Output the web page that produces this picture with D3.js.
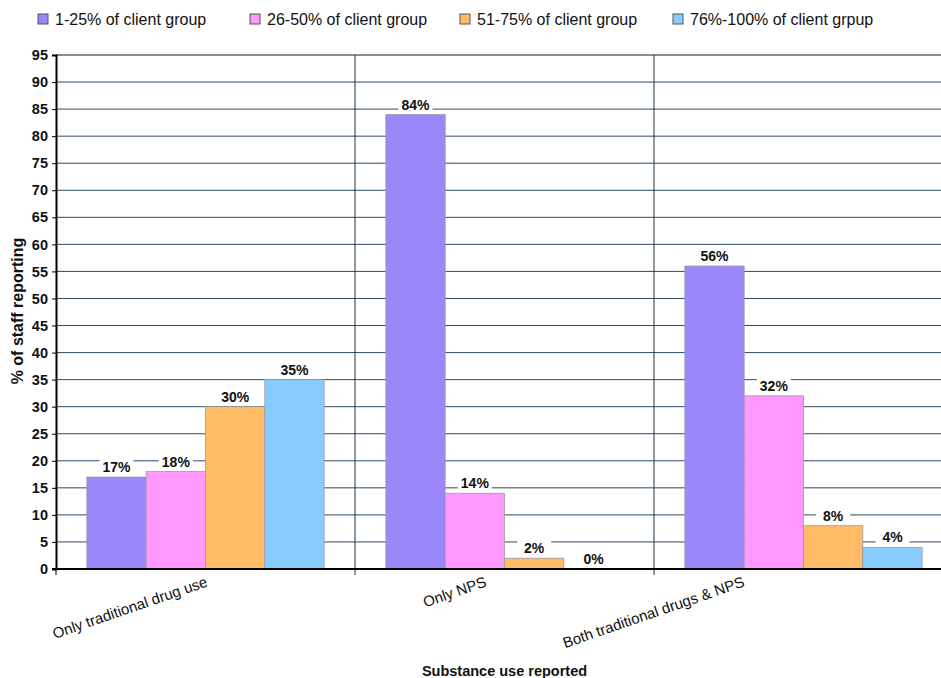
<!DOCTYPE html>
<html>
<head>
<meta charset="utf-8">
<script src="https://cdn.jsdelivr.net/npm/d3@7/dist/d3.min.js"></script>
<style>
  html, body { margin: 0; padding: 0; background: #fff; }
  svg { display: block; font-family: "Liberation Sans", Arial, sans-serif; }
</style>
</head>
<body>
<svg id="chart" width="941" height="678"></svg>
<script>
// Substance use categories and client-group bands
const categories = ["Only traditional drug use", "Only NPS", "Both traditional drugs & NPS"];
const series = ["1-25% of client group", "26-50% of client group", "51-75% of client group", "76%-100% of client grpup"];
const colors = ["#9b87fa", "#ff99ff", "#ffbb66", "#88ccff"];

// % of staff reporting, one array per client-group band (order follows categories)
const band1 = [17, 84, 56];
const band2 = [18, 14, 32];
const band3 = [30, 2, 8];
const band4 = [35, 0, 4];
const seriesValues = [band1, band2, band3, band4];

const yTicks = d3.range(0, 96, 5);

const svg = d3.select("#chart");
const plot = { left: 56, right: 953, top: 55, bottom: 569 };

const x0 = d3.scaleBand().domain(categories).range([plot.left, plot.right]).paddingInner(0).paddingOuter(0);
const x1 = d3.scaleBand().domain(series).range([0, x0.bandwidth()]).paddingInner(0).paddingOuter(0.52);
const y = d3.scaleLinear().domain([0, 95]).range([plot.bottom, plot.top]);

// horizontal gridlines
svg.append("g")
  .selectAll("line")
  .data(yTicks.filter(t => t > 0 && t < 95))
  .join("line")
  .attr("x1", plot.left).attr("x2", plot.right)
  .attr("y1", d => y(d)).attr("y2", d => y(d))
  .attr("stroke", "#2e4a63").attr("stroke-width", 1);

// top border line
svg.append("line")
  .attr("x1", plot.left).attr("x2", plot.right)
  .attr("y1", y(95)).attr("y2", y(95))
  .attr("stroke", "#8c8c8c").attr("stroke-width", 2);

// category separators
svg.append("g")
  .selectAll("line")
  .data(categories.slice(1))
  .join("line")
  .attr("x1", d => x0(d)).attr("x2", d => x0(d))
  .attr("y1", y(95)).attr("y2", y(0) + 6)
  .attr("stroke", "#1e3246").attr("stroke-width", 1);

// bars
const rows = [];
categories.forEach((c, ci) => {
  series.forEach((s, si) => rows.push({ c, s, si, v: seriesValues[si][ci] }));
});

svg.append("g")
  .selectAll("rect")
  .data(rows)
  .join("rect")
  .attr("x", d => x0(d.c) + x1(d.s))
  .attr("y", d => y(d.v))
  .attr("width", x1.bandwidth())
  .attr("height", d => y(0) - y(d.v))
  .attr("fill", d => colors[d.si])
  .attr("stroke", "#9a9aa8").attr("stroke-width", 0.8);

// value labels with white backing
const lab = svg.append("g").selectAll("g").data(rows).join("g")
  .attr("transform", d => `translate(${x0(d.c) + x1(d.s) + x1.bandwidth() / 2},${y(d.v) - 2})`);
lab.append("rect")
  .attr("x", -17).attr("y", -17).attr("width", 34).attr("height", 17)
  .attr("fill", "#fff");
lab.append("text")
  .attr("text-anchor", "middle")
  .attr("y", -3)
  .attr("font-size", 14).attr("font-weight", "bold").attr("fill", "#111")
  .text(d => d.v + "%");

// axes
const yAxis = d3.axisLeft(y).tickValues(yTicks).tickSize(4).tickPadding(4);
const gy = svg.append("g").attr("transform", `translate(${plot.left},0)`).call(yAxis);
gy.select(".domain").attr("stroke", "#000").attr("stroke-width", 2);
gy.selectAll(".tick line").attr("stroke", "#000");
gy.selectAll(".tick text").attr("font-size", 14.5).attr("font-weight", "bold").attr("fill", "#111")
  .attr("font-family", "Liberation Sans, Arial, sans-serif");

svg.append("line")
  .attr("x1", plot.left - 4).attr("x2", plot.right)
  .attr("y1", y(0)).attr("y2", y(0))
  .attr("stroke", "#000").attr("stroke-width", 2);
svg.append("line")
  .attr("x1", plot.left).attr("x2", plot.left)
  .attr("y1", y(0)).attr("y2", y(0) + 6)
  .attr("stroke", "#000").attr("stroke-width", 1);

// rotated category labels
const labelShift = [3, -17, -58];
svg.append("g")
  .selectAll("text")
  .data(categories)
  .join("text")
  .attr("transform", (d, i) => `translate(${x0(d) + x0.bandwidth() / 2 + labelShift[i]},586) rotate(-19)`)
  .attr("text-anchor", "end")
  .attr("font-size", 15).attr("fill", "#111")
  .text(d => d);

// axis titles
svg.append("text")
  .attr("x", (plot.left + plot.right) / 2).attr("y", 676)
  .attr("text-anchor", "middle")
  .attr("font-size", 14.5).attr("font-weight", "bold").attr("fill", "#111")
  .text("Substance use reported");

svg.append("text")
  .attr("transform", `translate(23,311) rotate(-90)`)
  .attr("text-anchor", "middle")
  .attr("font-size", 16).attr("font-weight", "bold").attr("fill", "#111")
  .text("% of staff reporting");

// legend
const legendX = [38, 250, 460, 673];
const lg = svg.append("g").selectAll("g").data(series).join("g")
  .attr("transform", (d, i) => `translate(${legendX[i]},14)`);
lg.append("rect")
  .attr("width", 10).attr("height", 10)
  .attr("fill", (d, i) => colors[i])
  .attr("stroke", "#555").attr("stroke-width", 1);
lg.append("text")
  .attr("x", 17).attr("y", 11)
  .attr("font-size", 16).attr("fill", "#111")
  .text(d => d);
</script>
</body>
</html>
